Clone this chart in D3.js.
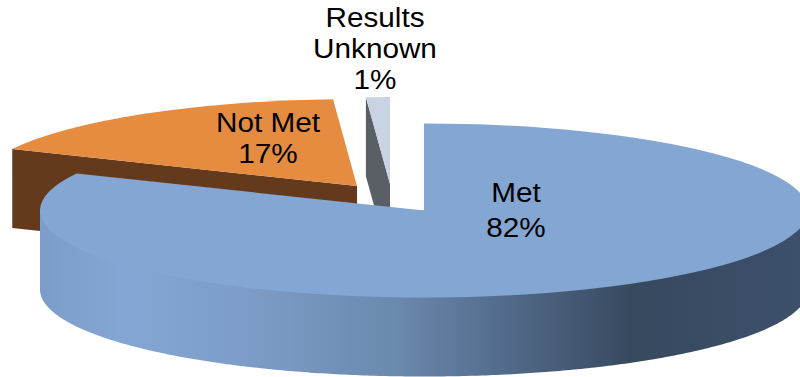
<!DOCTYPE html>
<html>
<head>
<meta charset="utf-8">
<style>
html,body{margin:0;padding:0;background:#fff;overflow:hidden}
svg{display:block}
text{font-family:"Liberation Sans",Arial,sans-serif;font-size:27.5px;fill:#000;text-anchor:middle}
</style>
<script src="https://cdnjs.cloudflare.com/ajax/libs/d3/7.8.5/d3.min.js"></script>
</head>
<body>
<svg id="chart" width="800" height="377"></svg>
<script>
// Share of outcomes, in pie order clockwise from twelve o'clock
const categories = ["Met", "Not Met", "Results Unknown"];
const shares = [82, 17, 1];
const topColors = ["#84a6d3", "#e58c41", "#cad3e3"];
const sideColors = ["#84a6d3", "#65391b", "#5a5e65"];

// Tilted-disc geometry
const radii = [384, 381, 384];
const ry = 87, depth = 79;
const apexes = [[424, 210.5], [357, 186], [390, 184]];
const labelLines = [["Met", "82%"], ["Not Met", "17%"], ["Results", "Unknown", "1%"]];
const labelAnchors = [[516, 202], [268, 132], [375, 27]];
const labelStep = [35, 31, 31];

const svg = d3.select("#chart");
const defs = svg.append("defs");

// Shading along the front wall of the large slice
const wallStops = [[0, "#7c9dc9"], [0.11, "#85a6d4"], [0.27, "#7d9dc8"], [0.47, "#6a89ae"],
                   [0.63, "#4f6785"], [0.78, "#37495f"], [1, "#3d506a"]];
const wallGrad = defs.append("linearGradient").attr("id", "wall")
  .attr("gradientUnits", "userSpaceOnUse").attr("x1", 40).attr("x2", 800).attr("y1", 0).attr("y2", 0);
wallGrad.selectAll("stop").data(wallStops).join("stop")
  .attr("offset", d => d[0]).attr("stop-color", d => d[1]);

const pie = d3.pie().sort(null).value(d => d)
  .startAngle(0).endAngle(2 * Math.PI);
const slices = pie(shares);

const rimAt = (a, i) => [apexes[i][0] + radii[i] * Math.sin(a), apexes[i][1] - ry * Math.cos(a)];
const line = d3.line();

// Back slices first so the large slice overlaps them
[2, 1, 0].forEach(i => {
  const s = slices[i];
  const g = svg.append("g");

  if (i === 0) {
    // Curved wall along the visible front of the disc, running up under the top face
    const angles = d3.range(Math.PI / 2, 3 * Math.PI / 2 + 0.001, 0.01);
    const area = d3.area()
      .x(a => rimAt(a, i)[0])
      .y0(apexes[i][1])
      .y1(a => rimAt(a, i)[1] + depth);
    g.append("path").attr("d", area(angles)).attr("fill", "url(#wall)");
  } else {
    // Cut face along the slice's leading edge
    const o = rimAt(s.startAngle, i), c = apexes[i];
    g.append("path")
      .attr("d", line([c, o, [o[0], o[1] + depth], [c[0], c[1] + depth]]) + "Z")
      .attr("fill", sideColors[i]);
  }

  const arc = d3.arc().innerRadius(0).outerRadius(radii[i]);
  g.append("path")
    .attr("transform", `translate(${apexes[i]}) scale(1,${ry / radii[i]})`)
    .attr("d", arc(s))
    .attr("fill", topColors[i]);
});

// Value labels, widened slightly to suit the flattened disc
labelLines.forEach((lines, i) => {
  lines.forEach((t, j) => {
    svg.append("text")
      .attr("transform", `translate(${labelAnchors[i][0]},${labelAnchors[i][1] + j * labelStep[i]}) scale(1.08,1)`)
      .text(t);
  });
});
</script>
</body>
</html>
